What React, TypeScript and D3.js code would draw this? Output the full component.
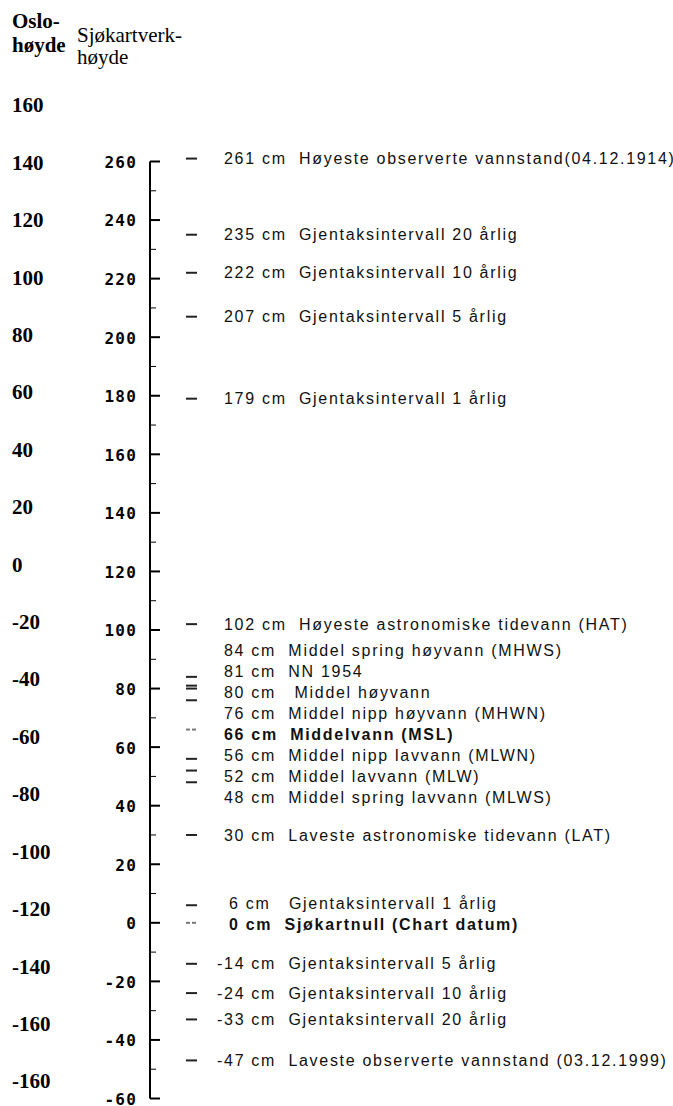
import { scaleLinear } from 'd3';

// Oslo height labels (left column, as printed, incl. the repeated -160)
const osloLabels = ['160', '140', '120', '100', '80', '60', '40', '20', '0', '-20', '-40', '-60', '-80', '-100', '-120', '-140', '-160', '-160'];

// Chart datum axis
const majorTicks = [260, 240, 220, 200, 180, 160, 140, 120, 100, 80, 60, 40, 20, 0, -20, -40, -60];
const minorTicks = [250, 230, 210, 190, 170, 150, 130, 110, 90, 70, 50, 30, 10, -10, -30, -50];

// Water levels (cm) and their descriptions
const levels = [261, 235, 222, 207, 179, 102, 84, 81, 80, 76, 66, 56, 52, 48, 30, 6, 0, -14, -24, -33, -47];
const descriptions = [
    'Høyeste observerte vannstand(04.12.1914)',
    'Gjentaksintervall 20 årlig',
    'Gjentaksintervall 10 årlig',
    'Gjentaksintervall 5 årlig',
    'Gjentaksintervall 1 årlig',
    'Høyeste astronomiske tidevann (HAT)',
    'Middel spring høyvann (MHWS)',
    'NN 1954',
    ' Middel høyvann',
    'Middel nipp høyvann (MHWN)',
    'Middelvann (MSL)',
    'Middel nipp lavvann (MLWN)',
    'Middel lavvann (MLW)',
    'Middel spring lavvann (MLWS)',
    'Laveste astronomiske tidevann (LAT)',
    ' Gjentaksintervall 1 årlig',
    'Sjøkartnull (Chart datum)',
    'Gjentaksintervall 5 årlig',
    'Gjentaksintervall 10 årlig',
    'Gjentaksintervall 20 årlig',
    'Laveste observerte vannstand (03.12.1999)',
];
const emphasized = [66, 0];

// Spread labels so they keep a minimum gap (isotonic regression / PAV)
function spreadLabels(targets: number[], gap: number) {
    const u = targets.map((t, i) => t - i * gap);
    const blocks: { sum: number; n: number }[] = [];
    u.forEach((v) => {
        blocks.push({ sum: v, n: 1 });
        while (blocks.length > 1) {
            const a = blocks[blocks.length - 2];
            const b = blocks[blocks.length - 1];
            if (a.sum / a.n <= b.sum / b.n) break;
            blocks.splice(blocks.length - 2, 2, { sum: a.sum + b.sum, n: a.n + b.n });
        }
    });
    const out: number[] = [];
    blocks.forEach((b) => {
        for (let k = 0; k < b.n; k++) out.push(b.sum / b.n);
    });
    return out.map((z, i) => z + i * gap);
}

function App() {
    const width = 673;
    const height = 1106;

    const axisX = 150;
    const y = scaleLinear().domain([260, -60]).range([161.5, 1098.5]);
    const osloY = scaleLinear().domain([0, osloLabels.length - 1]).range([105, 1081]);

    const labelY = spreadLabels(levels.map((v) => y(v)), 21);
    // numbers roughly right-aligned like the original
    const labelX = (v: number) => (v < 0 ? 217 : v < 10 ? 229 : 224);

    const serif = '"Liberation Serif", "Times New Roman", serif';
    const sans = '"Liberation Sans", Arial, sans-serif';
    const mono = '"DejaVu Sans Mono", monospace';

    return (
        <svg
            width={width}
            height={height}
            style={{ position: 'absolute', left: 0, top: 0, background: '#fff' }}
        >
            {/* Header */}
            <g fontFamily={serif} fontSize={21} fill="#000">
                <text x={12} y={28} fontWeight="bold">Oslo-</text>
                <text x={12} y={52} fontWeight="bold">høyde</text>
                <text x={77} y={42}>Sjøkartverk-</text>
                <text x={77} y={64}>høyde</text>
            </g>

            {/* Oslo height column */}
            <g fontFamily={serif} fontSize={21} fontWeight="bold" fill="#000">
                {osloLabels.map((l, i) => (
                    <text key={i} x={12} y={osloY(i)} dy="0.35em">{l}</text>
                ))}
            </g>

            {/* Chart datum axis */}
            <g stroke="#000">
                <line x1={axisX} x2={axisX} y1={y(260)} y2={y(-60)} strokeWidth={2} />
                {majorTicks.map((t) => (
                    <line key={t} x1={axisX} x2={axisX + 10} y1={y(t)} y2={y(t)} strokeWidth={2} />
                ))}
                {minorTicks.map((t) => (
                    <line key={t} x1={axisX} x2={axisX + 6} y1={y(t)} y2={y(t)} strokeWidth={1} />
                ))}
            </g>
            <g fontFamily={mono} fontSize={16} fontWeight="bold" fill="#000" textAnchor="end">
                {majorTicks.map((t) => (
                    <text key={t} x={137} y={y(t)} dy="0.4em" letterSpacing={1.2}>
                        {t}
                    </text>
                ))}
            </g>

            {/* Level markers */}
            <g>
                {levels.map((v) =>
                    emphasized.includes(v) ? (
                        <g key={v} stroke="#777" strokeWidth={2}>
                            <line x1={186} x2={190} y1={y(v)} y2={y(v)} />
                            <line x1={192} x2={196} y1={y(v)} y2={y(v)} />
                        </g>
                    ) : (
                        <line key={v} x1={186} x2={197} y1={y(v)} y2={y(v)} stroke="#222" strokeWidth={2} />
                    )
                )}
            </g>

            {/* Level labels */}
            <g fontFamily={sans} fontSize={16} fill="#111">
                {levels.map((v, i) => (
                    <text
                        key={v}
                        x={labelX(v)}
                        y={labelY[i]}
                        dy="0.35em"
                        letterSpacing={1.7}
                        xmlSpace="preserve"
                        fontWeight={emphasized.includes(v) ? 'bold' : 'normal'}
                    >
                        {`${v} cm  ${descriptions[i]}`}
                    </text>
                ))}
            </g>
        </svg>
    );
}

export default App;
